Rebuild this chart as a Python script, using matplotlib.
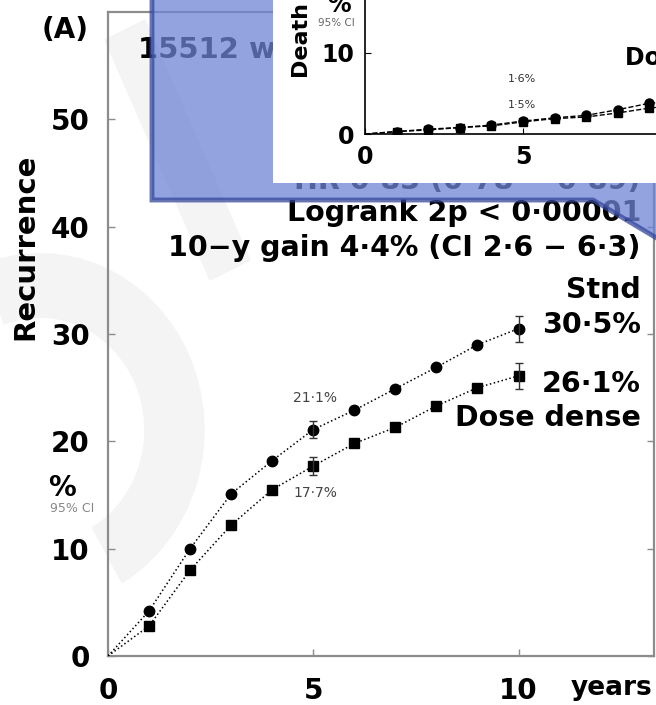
import numpy as np
import matplotlib
matplotlib.use("Agg")
import matplotlib.pyplot as plt
from matplotlib.patches import Polygon, Rectangle, Wedge

plt.rcParams['font.family'] = ['DejaVu Sans']

W, H = 656, 705

# main panel: recurrence
years = [0, 1, 2, 3, 4, 5, 6, 7, 8, 9, 10]
stnd = [0, 4.2, 10.0, 15.1, 18.2, 21.1, 22.9, 24.9, 26.9, 29.0, 30.5]
dose = [0, 2.8, 8.0, 12.2, 15.5, 17.7, 19.8, 21.3, 23.3, 25.0, 26.1]
err_years = [5, 10]
stnd_err = [21.1, 30.5]
dose_err = [17.7, 26.1]
stnd_ci = [0.8, 1.2]
dose_ci = [0.8, 1.2]

# inset: death
death_stnd = [0, 0.3, 0.6, 0.8, 1.1, 1.6, 2.0, 2.3, 3.0, 3.8, 4.1]
death_dose = [0, 0.3, 0.5, 0.8, 1.0, 1.5, 1.9, 2.1, 2.6, 3.2, 3.6]

xticks = [0, 5, 10]
yticks = [0, 10, 20, 30, 40, 50]
inset_yticks = [0, 10]


def px(x, y):
    return (x / W, 1 - y / H)


fig = plt.figure(figsize=(W / 100, H / 100), dpi=100)
tf = fig.transFigure

# faint watermark in the background
wm = '#f4f4f4'
fig.add_artist(Wedge(px(40, 430), 0.25, 300, 110, width=0.09, color=wm,
                     transform=tf, zorder=-2))
fig.add_artist(Polygon([px(105, 40), px(145, 20), px(250, 260), px(210, 280)],
                       closed=True, color=wm, transform=tf, zorder=-2))

ax = fig.add_axes([108 / W, 1 - 656 / H, (654 - 108) / W, (656 - 12) / H])
ax.set_facecolor('none')
ax.set_xlim(0, 13.3)
ax.set_ylim(0, 60)
for s in ax.spines.values():
    s.set_color('#8c8c8c')
    s.set_linewidth(1.6)
ax.set_xticks(xticks)
ax.set_yticks(yticks)
ax.tick_params(direction='in', length=5, width=1, color='#8c8c8c',
               labelsize=20, right=True, pad=13)
ax.tick_params(axis='x', pad=15)
for lab in ax.get_xticklabels() + ax.get_yticklabels():
    lab.set_fontweight('bold')

ax.plot(years, stnd, ':', color='black', lw=1.1, marker='o', ms=7.5,
        mfc='black', mec='black', markevery=slice(1, None), zorder=3)
ax.plot(years, dose, ':', color='black', lw=1.1, marker='s', ms=6.5,
        mfc='black', mec='black', markevery=slice(1, None), zorder=3)
ax.errorbar(err_years, stnd_err, yerr=stnd_ci, fmt='none', ecolor='#333333',
            elinewidth=1, capsize=3, zorder=3)
ax.errorbar(err_years, dose_err, yerr=dose_ci, fmt='none', ecolor='#333333',
            elinewidth=1, capsize=3, zorder=3)

ax.text(*px(65, 30), '(A)', transform=tf, ha='center', va='center',
        fontsize=20, fontweight='bold')
ax.text(*px(138, 50), '15512 women', transform=tf, ha='left', va='center',
        fontsize=21, fontweight='bold')
ax.text(*px(25, 247), 'Recurrence', transform=tf, ha='center', va='center',
        rotation=90, fontsize=21, fontweight='bold')
ax.text(*px(62, 488), '%', transform=tf, ha='center', va='center',
        fontsize=20, fontweight='bold')
ax.text(*px(72, 508), '95% CI', transform=tf, ha='center', va='center',
        fontsize=9, color='#888888')
ax.text(*px(652, 688), 'years', transform=tf, ha='right', va='center',
        fontsize=19, fontweight='bold')

right = 641
lines = [('HR 0·83 (0·78 − 0·89)', 181), ('Logrank 2p < 0·00001', 213),
         ('10−y gain 4·4% (CI 2·6 − 6·3)', 248), ('Stnd', 290),
         ('30·5%', 325), ('26·1%', 384), ('Dose dense', 418)]
for txt, yy in lines:
    ax.text(*px(right, yy), txt, transform=tf, ha='right', va='center',
            fontsize=20.5, fontweight='bold')
ax.text(*px(315, 398), '21·1%', transform=tf, ha='center', va='center',
        fontsize=10, color='#444444')
ax.text(*px(315, 493), '17·7%', transform=tf, ha='center', va='center',
        fontsize=10, color='#444444')

# translucent blue callout and white inset panel
fig.add_artist(Polygon([px(152, -10), px(152, 200), px(593, 200), px(665, 243),
                        px(665, -10)], closed=True, facecolor='#6f84d6',
                       alpha=0.75, edgecolor='#34469a', lw=3.5,
                       transform=tf, zorder=1))
fig.add_artist(Rectangle(px(273, 183), (W - 273 + 10) / W, 200 / H,
                         facecolor='white', edgecolor='none',
                         transform=tf, zorder=2))

ins = fig.add_axes([365 / W, 1 - 134 / H, 31.6 * 13.3 / W, 8.1 * 20 / H])
ins.set_zorder(3)
ins.set_facecolor('none')
ins.set_xlim(0, 13.3)
ins.set_ylim(0, 20)
for s in ins.spines.values():
    s.set_color('black')
    s.set_linewidth(1.2)
ins.set_xticks(xticks)
ins.set_yticks(inset_yticks)
ins.tick_params(direction='in', length=4, width=0.8, labelsize=17, pad=8)
for lab in ins.get_xticklabels() + ins.get_yticklabels():
    lab.set_fontweight('bold')
ins.plot(years, death_stnd, '--', color='black', lw=1, marker='o', ms=6.5,
         markevery=slice(1, None))
ins.plot(years, death_dose, '--', color='black', lw=1, marker='s', ms=6,
         markevery=slice(1, None))

ins.text(*px(300, 38), 'Death', transform=tf, ha='center', va='center',
         rotation=90, fontsize=16, fontweight='bold')
ins.text(*px(339, 5), '%', transform=tf, ha='center', va='center',
         fontsize=17, fontweight='bold')
ins.text(*px(336, 23), '95% CI', transform=tf, ha='center', va='center',
         fontsize=7.5, color='#666666')
ins.text(*px(522, 79), '1·6%', transform=tf, ha='center', va='center',
         fontsize=8, color='#333333')
ins.text(*px(522, 105), '1·5%', transform=tf, ha='center', va='center',
         fontsize=8, color='#333333')
ins.text(*px(625, 58), 'Dose dense', transform=tf, ha='left', va='center',
         fontsize=17, fontweight='bold')

fig.savefig('out.png', dpi=100)
